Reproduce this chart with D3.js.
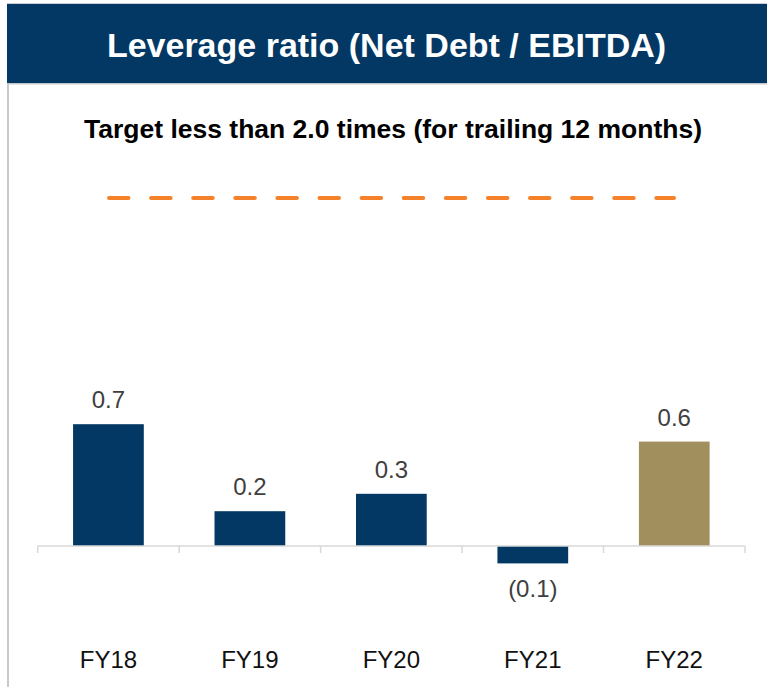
<!DOCTYPE html>
<html>
<head>
	<title>Leverage ratio</title>
	<script src="https://cdn.jsdelivr.net/npm/d3@7"></script>
</head>
<style type="text/css">
	body { margin:0; background:#fff; }
	text { font-family: "Liberation Sans", Arial, sans-serif; }
</style>
<body>
</body>
</html>
<script type="text/javascript">
	var width = 767;
	var height = 687;

	var categories = ["FY18", "FY19", "FY20", "FY21", "FY22"];
	var values = [0.7, 0.2, 0.3, -0.1, 0.6];
	var labels = ["0.7", "0.2", "0.3", "(0.1)", "0.6"];
	var target = 2.0;

	var navy = "#023863";
	var gold = "#a18f5e";

	var svg = d3.select("body").append("svg").attr("width", width).attr("height", height);

	// header band
	svg.append("rect").attr("x", 7).attr("y", 3).attr("width", width - 7).attr("height", 1).attr("fill", "#c9ced6");
	svg.append("rect").attr("x", 7).attr("y", 4).attr("width", width - 7).attr("height", 79).attr("fill", navy);
	svg.append("rect").attr("x", 7).attr("y", 83).attr("width", width - 7).attr("height", 1.5).attr("fill", "#c4c8ce");
	svg.append("text").attr("x", 386.5).attr("y", 57).attr("text-anchor", "middle")
		.attr("fill", "#fff").style("font-weight", "bold").style("font-size", "34px")
		.text("Leverage ratio (Net Debt / EBITDA)");

	// left border
	svg.append("rect").attr("x", 7).attr("y", 84).attr("width", 2).attr("height", height - 84).attr("fill", "#c8c8c8");

	svg.append("text").attr("x", 393).attr("y", 138).attr("text-anchor", "middle")
		.attr("fill", "#000").style("font-weight", "bold").style("font-size", "26.5px")
		.text("Target less than 2.0 times (for trailing 12 months)");

	var x = d3.scaleBand().domain(categories).range([37.7, 745]).paddingInner(0.5).paddingOuter(0.25);
	var y = d3.scaleLinear().domain([0, 1]).range([546, 372]);
	var step = x.step();

	// target line
	svg.append("line").attr("x1", 109).attr("x2", 674).attr("y1", y(target)).attr("y2", y(target))
		.attr("stroke", "#f5822a").attr("stroke-width", 4).attr("stroke-linecap", "round")
		.attr("stroke-dasharray", "19.5 22.6");

	// bars
	svg.selectAll("rect.bar").data(values).enter().append("rect").attr("class", "bar")
		.attr("x", function(d, i){return x(categories[i])})
		.attr("y", function(d){return y(Math.max(0, d))})
		.attr("width", x.bandwidth())
		.attr("height", function(d){return Math.abs(y(d) - y(0))})
		.attr("fill", function(d, i){return i == 4 ? gold : navy});

	// axis line and ticks
	var g = svg.append("g").attr("transform", "translate(0," + y(0) + ")");
	g.append("line").attr("x1", 37.7).attr("x2", 745).attr("stroke", "#d9d9d9").attr("stroke-width", 1.5);
	var ticks = categories.map(function(c){return x(c) - step * 0.25}).concat([745]);
	g.selectAll("line.tick").data(ticks).enter().append("line").attr("class", "tick")
		.attr("x1", function(d){return d}).attr("x2", function(d){return d})
		.attr("y1", 0).attr("y2", 7).attr("stroke", "#d9d9d9").attr("stroke-width", 1.5);

	// value labels
	svg.selectAll("text.val").data(values).enter().append("text").attr("class", "val")
		.attr("x", function(d, i){return x(categories[i]) + x.bandwidth() / 2})
		.attr("y", function(d){return d >= 0 ? y(d) - 16 : y(d) + 34})
		.attr("text-anchor", "middle").attr("fill", "#404040").style("font-size", "24px")
		.text(function(d, i){return labels[i]});

	// category labels
	svg.selectAll("text.cat").data(categories).enter().append("text").attr("class", "cat")
		.attr("x", function(d){return x(d) + x.bandwidth() / 2})
		.attr("y", 668)
		.attr("text-anchor", "middle").attr("fill", "#111").style("font-size", "24px")
		.text(function(d){return d});
</script>
